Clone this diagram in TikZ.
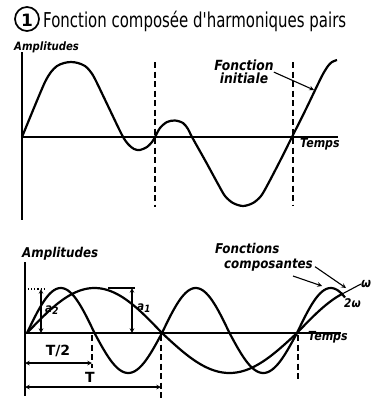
\documentclass[tikz,border=0pt]{standalone}
\usepackage{fontspec}
\setmainfont{DejaVu Sans}
\newfontfamily\titolofont[FakeStretch=0.73]{DejaVu Sans}
\newfontfamily\etichfont[FakeStretch=0.88]{DejaVu Sans}

\begin{document}
\begin{tikzpicture}[x=1pt, y=-1pt,
    curva/.style={line width=2.2pt, line join=round},
    asse/.style={line width=1.4pt},
    tratteggio/.style={line width=1.3pt, dash pattern=on 6pt off 3.5pt},
    quota/.style={<->, >=stealth, line width=1.1pt},
    freccia/.style={->, >=stealth, line width=1.1pt},
    etich/.style={font=\etichfont\bfseries\itshape\fontsize{#1}{13}\selectfont, inner sep=0pt},
    etich/.default=13.5,
    declare function={onda(\t)=(sin(\t)>0 ? 45 : 40)*sin(\t);}]
    \useasboundingbox (0,0) rectangle (378,399);

    % Titolo
    \draw[line width=1.7pt] (27,19) circle (12);
    \node[font=\bfseries\fontsize{17}{17}\selectfont] (uno) at (27,20) {1};
    \node[anchor=base west, inner sep=0pt, font=\titolofont\fontsize{20.5}{20}\selectfont] (titolo) at (43,27) {Fonction composée d'harmoniques pairs};

    % Assi primo grafico
    \draw[asse] (22,52) -- (22,220);
    \draw[asse] (22,137) -- (338,137);
    \node[etich=11.5, anchor=base west] (ampl1) at (14,50) {Amplitudes};
    \node[etich=12.5, anchor=base west] (temps1) at (300,147) {Temps};

    % Linee tratteggiate
    \draw[tratteggio] (155,62) -- (155,207);
    \draw[tratteggio] (293,62) -- (293,205);

    % Funzione iniziale
    \draw[curva] plot[smooth, tension=0.5] coordinates {(22,137) (36,103) (45,82) (51,72) (57,66) (64,63) (71,62) (78,63) (85,66) (90,71) (95,79) (108,106) (122,135) (128,144) (134,149) (140,150) (147,147) (152,142) (155,137) (160,128) (167,122) (175,120.5) (183,123) (188,129) (192,137) (206,162) (218,184) (225,196) (233,203) (243,206) (253,203) (261,196) (268,184) (280,161) (292,137) (306,109) (318,84) (323,74) (328,66) (332,62) (337,60)};
    \node[etich=14, anchor=north, align=center] (finiz) at (244,60) {Fonction\\initiale};
    \coordinate (pfi) at (314,90);
    \draw[freccia] (finiz.east) -- (pfi);

    % Assi secondo grafico
    \draw[asse] (25,262) -- (25,396);
    \draw[asse] (25,333) -- (341,333);
    \node[etich, anchor=base west] (ampl2) at (22,257) {Amplitudes};
    \node[etich=12.5, anchor=base west] (temps2) at (308,340) {Temps};

    % Funzioni componenti
    \draw[curva] plot[domain=27:343, samples=150] (\x, {333-onda((\x-27)*4/3)});
    \draw[curva] plot[domain=27:345, samples=200] (\x, {333-onda((\x-27)*8/3)});
    \coordinate (fw) at (343,{333-onda(316*4/3)});
    \node[etich=13, anchor=west] (lw) at (361,284) {ω};
    \node[etich=12, anchor=west] (l2w) at (344,303) {2ω};
    \draw[line width=1.1pt] (fw) -- (lw.west);

    \node[etich, anchor=base west] (fc1) at (215,253) {Fonctions};
    \node[etich, anchor=base west] (fc2) at (224,268) {composantes};
    \coordinate (p2w) at (322,286);
    \coordinate (pw) at (346,288);
    \draw[freccia] ([shift={(-20,5)}]fc2.south east) -- (p2w);
    \draw[freccia] ([shift={(2,2)}]fc2.east) -- (pw);

    % Ampiezze
    \draw[line width=1.1pt] (108,288) -- (135,288);
    \draw[quota] (132,288) -- (132,333);
    \node[etich=12, anchor=base west] (a1) at (137,310) {a\raisebox{-2pt}{\fontsize{10}{10}\selectfont 1}};
    \draw[line width=1.1pt, dotted] (25,289) -- (44,289);
    \draw[quota] (41,289) -- (41,333);
    \node[etich=12, anchor=base west] (a2) at (45,312) {a\raisebox{-2pt}{\fontsize{10}{10}\selectfont 2}};

    % Quote T/2 e T
    \draw[tratteggio] (92,335) -- (92,368);
    \draw[tratteggio] (161,335) -- (161,399);
    \draw[tratteggio] (298,335) -- (298,380);
    \draw[quota] (25,363) -- (92,363);
    \draw[quota] (25,387) -- (161,387);
    \node[font=\bfseries\fontsize{14}{14}\selectfont] (tmezzi) at (58,351) {T/2};
    \node[font=\bfseries\fontsize{14}{14}\selectfont] (tper) at (90,377) {T};
\end{tikzpicture}
\end{document}
